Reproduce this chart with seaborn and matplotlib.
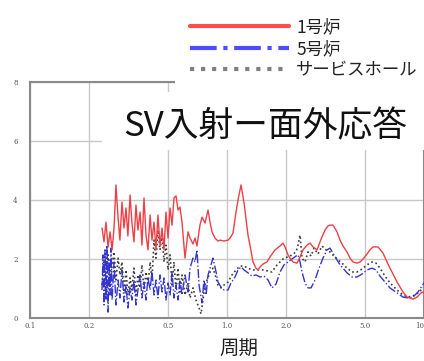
import pandas as pd
import matplotlib
matplotlib.use('Agg')
import matplotlib.pyplot as plt
from matplotlib.lines import Line2D
from matplotlib.patches import Rectangle
from matplotlib.ticker import NullFormatter
import seaborn as sns

# 1号炉
period_1 = [0.232, 0.2375, 0.243, 0.249, 0.255, 0.261, 0.267, 0.273, 0.280, 0.286,
            0.293, 0.300, 0.307, 0.314, 0.322, 0.329, 0.337, 0.345, 0.353, 0.362,
            0.370, 0.379, 0.388, 0.397, 0.407, 0.416, 0.426, 0.436, 0.446, 0.457,
            0.468, 0.479, 0.490, 0.502, 0.514, 0.526, 0.538, 0.551, 0.564, 0.577,
            0.591, 0.612, 0.634, 0.649, 0.672, 0.688, 0.704, 0.729, 0.747, 0.773,
            0.801, 0.820, 0.839, 0.869, 0.900, 0.921, 0.966, 1.012, 1.036, 1.073,
            1.111, 1.137, 1.178, 1.220, 1.278, 1.308, 1.355, 1.403, 1.437, 1.471,
            1.523, 1.596, 1.653, 1.753, 1.858, 1.924, 1.970, 2.040, 2.088, 2.163,
            2.267, 2.348, 2.432, 2.548, 2.639, 2.733, 2.863, 2.966, 3.036, 3.144,
            3.256, 3.333, 3.452, 3.617, 3.747, 3.880, 4.066, 4.211, 4.361, 4.570,
            4.733, 4.902, 5.136, 5.320, 5.510, 5.843, 6.195, 6.490, 6.721, 7.295,
            7.824, 8.198, 8.795, 9.215, 9.768, 10.0]
resp_1 = [3.05, 2.58, 3.25, 2.41, 2.92, 2.31, 3.05, 4.51, 3.39, 2.64,
          3.93, 3.05, 3.73, 2.78, 4.17, 3.25, 2.58, 3.83, 2.98, 3.59,
          2.47, 4.07, 2.81, 2.31, 3.49, 2.64, 3.25, 2.31, 3.49, 2.47,
          3.05, 2.31, 3.59, 2.71, 3.73, 3.15, 4.07, 4.14, 3.66, 3.76,
          3.25, 2.03, 2.92, 2.71, 2.51, 2.71, 2.44, 3.15, 3.42, 3.22,
          3.66, 3.25, 2.92, 2.71, 2.61, 2.64, 2.61, 2.64, 2.71, 2.88,
          3.59, 4.00, 4.51, 3.90, 2.81, 2.47, 1.90, 1.69, 1.63, 1.73,
          1.83, 1.90, 2.07, 2.31, 2.44, 2.54, 2.41, 2.14, 2.03, 1.90,
          1.86, 2.07, 2.31, 2.47, 2.54, 2.41, 2.31, 2.58, 2.75, 2.98,
          3.12, 3.15, 3.15, 2.92, 2.64, 2.44, 2.24, 2.03, 1.90, 1.86,
          1.90, 2.00, 2.17, 2.31, 2.41, 2.41, 2.20, 1.90, 1.69, 1.22,
          0.88, 0.71, 0.64, 0.71, 0.88, 0.85]

# 5号炉
period_5 = [0.232, 0.2348, 0.2375, 0.2403, 0.243, 0.246, 0.249, 0.2518, 0.255, 0.2578,
            0.261, 0.267, 0.273, 0.280, 0.286, 0.293, 0.300, 0.307, 0.314, 0.322,
            0.329, 0.337, 0.345, 0.353, 0.362, 0.370, 0.379, 0.388, 0.397, 0.407,
            0.416, 0.426, 0.436, 0.446, 0.457, 0.468, 0.479, 0.490, 0.502, 0.514,
            0.526, 0.538, 0.551, 0.564, 0.577, 0.591, 0.612, 0.634, 0.649, 0.672,
            0.688, 0.704, 0.721, 0.747, 0.764, 0.783, 0.801, 0.820, 0.849, 0.880,
            0.900, 0.932, 0.966, 1.012, 1.048, 1.098, 1.137, 1.178, 1.220, 1.278,
            1.339, 1.403, 1.471, 1.541, 1.615, 1.692, 1.773, 1.858, 1.947, 2.040,
            2.138, 2.240, 2.293, 2.348, 2.403, 2.489, 2.578, 2.670, 2.797, 2.931,
            3.071, 3.218, 3.333, 3.452, 3.617, 3.747, 3.880, 4.066, 4.311, 4.570,
            4.845, 5.136, 5.445, 5.706, 5.980, 6.339, 6.721, 7.295, 7.824, 8.295,
            8.795, 9.322, 10.0]
resp_5 = [0.95, 2.14, 0.44, 2.31, 0.61, 2.47, 0.20, 1.97, 0.78, 2.37,
          0.61, 1.90, 0.44, 1.29, 0.68, 1.63, 0.54, 1.12, 0.34, 1.02,
          0.61, 1.29, 0.44, 0.95, 1.46, 0.68, 1.22, 0.61, 1.36, 0.95,
          1.56, 0.78, 1.29, 0.68, 1.46, 0.88, 1.36, 0.61, 1.19, 0.78,
          1.56, 0.68, 1.12, 0.61, 1.29, 0.78, 1.46, 0.88, 1.69, 2.03,
          1.90, 2.31, 1.12, 0.51, 1.29, 0.78, 1.46, 1.69, 2.03, 1.56,
          1.22, 1.05, 0.95, 0.95, 1.19, 1.39, 1.63, 1.73, 1.63, 1.53,
          1.42, 1.46, 1.39, 1.42, 1.29, 1.02, 1.15, 1.56, 1.80, 1.90,
          2.00, 2.10, 2.14, 1.90, 1.56, 1.19, 1.02, 1.02, 1.29, 1.69,
          2.03, 2.31, 2.37, 2.20, 1.97, 1.80, 1.69, 1.53, 1.39, 1.39,
          1.49, 1.63, 1.69, 1.63, 1.42, 1.22, 1.02, 0.85, 0.71, 0.68,
          0.71, 0.88, 1.19]

# サービスホール
period_s = [0.232, 0.2375, 0.243, 0.249, 0.255, 0.261, 0.267, 0.273, 0.280, 0.286,
            0.293, 0.300, 0.307, 0.314, 0.322, 0.329, 0.337, 0.345, 0.353, 0.362,
            0.370, 0.379, 0.388, 0.397, 0.407, 0.416, 0.426, 0.436, 0.446, 0.457,
            0.468, 0.479, 0.490, 0.502, 0.514, 0.526, 0.538, 0.551, 0.564, 0.577,
            0.591, 0.612, 0.634, 0.649, 0.672, 0.696, 0.721, 0.738, 0.755, 0.773,
            0.801, 0.820, 0.849, 0.880, 0.900, 0.932, 0.966, 1.012, 1.060, 1.111,
            1.164, 1.220, 1.278, 1.339, 1.403, 1.471, 1.541, 1.615, 1.692, 1.773,
            1.858, 1.947, 2.040, 2.138, 2.240, 2.293, 2.348, 2.403, 2.489, 2.578,
            2.670, 2.765, 2.896, 3.036, 3.180, 3.333, 3.493, 3.660, 3.835, 4.066,
            4.311, 4.570, 4.845, 5.136, 5.445, 5.706, 5.980, 6.339, 6.721, 7.295,
            7.824, 8.295, 8.795, 9.322, 10.0]
resp_s = [1.12, 1.90, 0.61, 2.14, 0.95, 1.80, 2.24, 1.29, 2.03, 1.46,
          1.90, 0.88, 1.63, 0.78, 1.36, 0.95, 1.69, 0.78, 1.46, 1.02,
          1.80, 0.95, 1.56, 1.12, 1.90, 1.29, 2.64, 2.03, 2.98, 2.31,
          2.81, 1.90, 2.47, 1.63, 2.14, 1.12, 1.90, 0.95, 1.69, 0.88,
          1.46, 0.78, 1.19, 0.68, 1.02, 0.61, 0.34, 0.14, 0.61, 1.12,
          1.36, 1.56, 1.69, 1.36, 1.12, 1.02, 1.12, 1.22, 1.46, 1.63,
          1.76, 1.76, 1.69, 1.63, 1.63, 1.63, 1.63, 1.59, 1.56, 1.76,
          1.90, 2.03, 2.07, 2.14, 2.24, 2.47, 2.81, 2.03, 1.90, 2.24,
          2.10, 2.37, 2.17, 2.44, 2.31, 2.24, 2.10, 1.97, 1.86, 1.69,
          1.56, 1.56, 1.66, 1.80, 1.90, 1.86, 1.69, 1.42, 1.19, 0.95,
          0.78, 0.71, 0.75, 0.85, 1.05]

labels = ['1号炉', '5号炉', 'サービスホール']
xticks = [0.1, 0.2, 0.5, 1.0, 2.0, 5.0, 10.0]
xtick_labels = ['0.1', '0.2', '0.5', '1.0', '2.0', '5.0', '10']
yticks = [0, 2, 4, 6, 8]

sns.set_theme(style="white", rc={"axes.grid": False,
                                 "axes.facecolor": "white",
                                 "figure.facecolor": "white"})
plt.rcParams['font.family'] = ['Noto Sans CJK JP', 'DejaVu Sans']

df1 = pd.DataFrame({'period': period_1, 'resp': resp_1})
df5 = pd.DataFrame({'period': period_5, 'resp': resp_5})
dfs = pd.DataFrame({'period': period_s, 'resp': resp_s})

fig = plt.figure(figsize=(4.24, 3.61), dpi=100)
ax = fig.add_axes([0.0708, 0.1191, 0.9292, 0.6537])

sns.lineplot(data=dfs, x='period', y='resp', ax=ax, sort=False, estimator=None,
             color='#3a3a3a', linestyle=':', linewidth=1.2, zorder=2)
sns.lineplot(data=df5, x='period', y='resp', ax=ax, sort=False, estimator=None,
             color='#3535d0', linestyle='-.', linewidth=1.0, zorder=3)
sns.lineplot(data=df1, x='period', y='resp', ax=ax, sort=False, estimator=None,
             color='#ee4046', linestyle='-', linewidth=1.0, zorder=4)

ax.set_xscale('log')
ax.set_xlim(0.1, 10)
ax.set_ylim(0, 8)
ax.set_xticks(xticks)
ax.set_xticklabels(xtick_labels)
ax.xaxis.set_minor_formatter(NullFormatter())
ax.set_yticks(yticks)
ax.set_yticklabels([str(v) for v in yticks])
ax.grid(True, which='major', color='#c8c8c8', linewidth=1.0)
ax.tick_params(axis='both', which='major', labelsize=5, labelcolor='#555555',
               length=0, pad=3)
ax.tick_params(axis='y', pad=9)
for lab in ax.get_xticklabels() + ax.get_yticklabels():
    lab.set_family('DejaVu Serif')
ax.get_xticklabels()[-1].set_ha('right')
for side in ['left', 'bottom', 'top', 'right']:
    ax.spines[side].set_color('#8a8a8a')
    ax.spines[side].set_linewidth(1.5)

# title box inside the axes
ax.add_patch(Rectangle((0.183, 0.712), 0.817, 0.246, transform=ax.transAxes,
                       facecolor='white', edgecolor='none', zorder=5))
ax.text(0.596, 0.812, 'SV入射ー面外応答', transform=ax.transAxes, ha='center',
        va='center', fontsize=25, color='#111111', zorder=6)

ax.set_xlabel('周期', fontsize=14, color='#222222')
ax.set_ylabel('')
ax.xaxis.set_label_coords(0.53, -0.128)
ax.xaxis.label.set_va('center')

handles = [Line2D([], [], color='#ff4d4d', linewidth=3, linestyle='-'),
           Line2D([], [], color='#4d4dff', linewidth=3, linestyle='-.'),
           Line2D([], [], color='#808080', linewidth=3, linestyle=':')]
leg = fig.legend(handles, labels, loc='upper right', bbox_to_anchor=(1.02, 0.99),
                 fontsize=12.5, handlelength=5.7, handletextpad=0.4,
                 labelspacing=0.2, borderpad=0.85, borderaxespad=0.0,
                 frameon=True, facecolor='white', edgecolor='none', framealpha=1)
for t in leg.get_texts():
    t.set_color('#222222')

plt.savefig('out.png', dpi=100)
